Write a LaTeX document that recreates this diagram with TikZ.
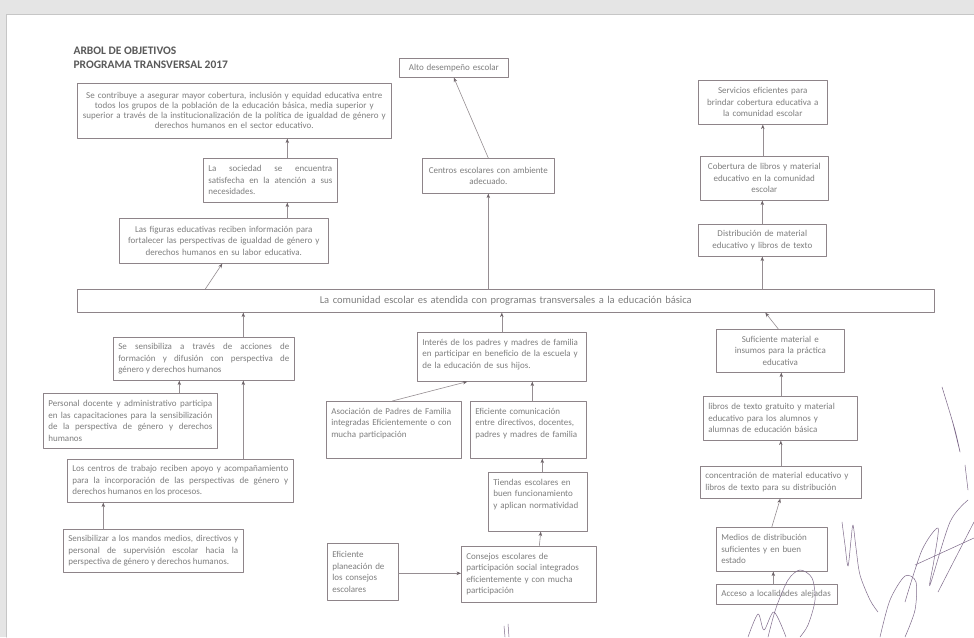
\documentclass[tikz,border=0pt]{standalone}
\usepackage{fontspec}
\setmainfont{Carlito}
\usetikzlibrary{arrows.meta}
\definecolor{borde}{HTML}{8E8489}
\definecolor{texto}{HTML}{7E7E7E}
\definecolor{linea}{HTML}{968E92}
\definecolor{punta}{HTML}{6E6469}
\definecolor{tinta}{HTML}{7E6A8A}
\begin{document}
\begin{tikzpicture}[x=1pt,y=-1pt,>={Stealth[length=4.5pt,width=3.5pt,color=punta]},line join=round,line cap=round,
	caja/.style={draw=borde,line width=0.6pt,anchor=north west,inner xsep=5pt,inner ysep=2pt,text=texto,font=\fontsize{9}{11.5}\selectfont},
	arriba/.style={text height=10pt,text depth=#1,inner ysep=3pt},
	flecha/.style={->,draw=linea,line width=0.6pt},
	firma/.style={draw=tinta,line width=0.5pt}]
	\useasboundingbox (0,0) rectangle (974,637);
	% hoja escaneada
	\fill[gray!20] (0,0) rectangle (974,637);
	\fill[white] (6,14) rectangle (974,637);
	\draw[gray!45,line width=1pt] (6,637)--(6,14)--(974,14);
	% titulo
	\node[anchor=west,text=black!65,font=\fontsize{11.5}{14}\selectfont\bfseries,align=left] (titulo) at (70,58) {ARBOL DE OBJETIVOS\\PROGRAMA TRANSVERSAL 2017};
	% fines
	\node[caja,text width=304pt,minimum height=55pt,align=center,font=\fontsize{9}{10}\selectfont] (fin) at (77,83) {Se contribuye a asegurar mayor cobertura, inclusión y equidad educativa entre\\todos los grupos de la población de la educación básica, media superior y\\\makebox[0pt]{superior a través de  la institucionalización de la política de igualdad de género y}\\derechos humanos en el sector educativo.};
	\node[caja,text width=124pt,minimum height=44pt,align=justify] (soc) at (203,158) {La sociedad se encuentra\linebreak satisfecha en la atención a sus\linebreak necesidades.};
	\node[caja,text width=199pt,minimum height=45pt,align=center] (fig) at (119,218) {Las figuras educativas  reciben información para\\fortalecer las perspectivas de igualdad de género y\\derechos humanos en su labor educativa.};
	\node[caja,text width=99pt,minimum height=19pt,align=center] (alto) at (399,58) {Alto desempeño escolar};
	\node[caja,text width=122pt,minimum height=35pt,align=center] (amb) at (422,158) {Centros escolares con ambiente\\adecuado.};
	\node[caja,text width=119pt,minimum height=44pt,align=center] (serv) at (698,80) {Servicios eficientes para\\brindar cobertura educativa a\\la comunidad escolar};
	\node[caja,text width=118pt,minimum height=44pt,align=center] (cob) at (700,156) {Cobertura de libros y material\\educativo en la comunidad\\escolar};
	\node[caja,text width=118pt,minimum height=32pt,align=center] (dist) at (698,224) {Distribución de material\\educativo y libros de texto};
	% objetivo central
	\node[caja,text width=847pt,minimum height=23pt,align=center,font=\fontsize{10.5}{12}\selectfont] (obj) at (77,289) {La comunidad escolar es atendida con programas transversales a la educación básica};
	% medios
	\node[caja,text width=171pt,minimum height=43pt,align=justify] (sens) at (113,337) {Se sensibiliza a través de acciones de\linebreak formación y difusión con perspectiva de\linebreak género y derechos humanos};
	\node[caja,text width=164pt,minimum height=55pt,align=justify] (pers) at (43,393) {Personal docente y administrativo participa\linebreak en las capacitaciones para la sensibilización\linebreak de la perspectiva de género y derechos\linebreak humanos};
	\node[caja,text width=216pt,minimum height=43pt,align=justify] (ctrab) at (67,459) {Los centros de trabajo reciben apoyo y acompañamiento\linebreak para la incorporación de las perspectivas de género y\linebreak derechos humanos en los procesos.};
	\node[caja,text width=170pt,minimum height=43pt,align=justify] (mandos) at (63,529) {Sensibilizar a los mandos medios, directivos y\linebreak personal de supervisión escolar hacia la\linebreak perspectiva de género y derechos humanos.};
	\node[caja,arriba=33pt,text width=159pt,align=left] (inter) at (417,332) {Interés de los padres y madres de familia\\en participar en beneficio de la escuela y\\de la educación de sus hijos.};
	\node[caja,arriba=41pt,text width=125pt,align=left] (asoc) at (326,401) {Asociación de Padres de Familia\\integradas Eficientemente o con\\mucha participación};
	\node[caja,arriba=41pt,text width=106pt,align=left] (comu) at (470,401) {Eficiente comunicación\\entre directivos, docentes,\\padres y madres de familia};
	\node[caja,arriba=43pt,text width=89pt,align=left] (tiend) at (488,472) {Tiendas escolares en\\buen funcionamiento\\y aplican normatividad};
	\node[caja,text width=125pt,minimum height=56pt,align=left] (cons) at (461,546) {Consejos escolares de\\participación social integrados\\eficientemente y con mucha\\participación};
	\node[caja,text width=61pt,minimum height=57pt,align=left] (plan) at (327,543) {Eficiente\\planeación de\\los consejos\\escolares};
	\node[caja,text width=118pt,minimum height=43pt,align=center] (sufi) at (716,329) {Suficiente material e\\insumos para la práctica\\educativa};
	\node[caja,text width=144pt,minimum height=44pt,align=left] (libros) at (703,396) {libros de texto gratuito y material\\educativo para los alumnos y\\alumnas de educación básica};
	\node[caja,text width=151pt,minimum height=32pt,align=left] (conc) at (700,466) {concentración de material educativo y\\libros de texto para su distribución};
	\node[caja,text width=101pt,minimum height=44pt,align=left] (medios) at (716,527) {Medios de distribución\\suficientes y en buen\\estado};
	\node[caja,text width=111pt,minimum height=20pt,align=left] (acceso) at (716,584) {Acceso a localidades alejadas};
	% flechas superiores
	\draw[flecha] ([xshift=17pt]soc.north) -- ([xshift=17pt]soc.north |- fin.south);
	\draw[flecha] ([xshift=63.5pt]fig.north) -- ([xshift=63.5pt]fig.north |- soc.south);
	\draw[flecha] ([xshift=-300.5pt]obj.north) -- ([xshift=-1.5pt]fig.south);
	\draw[flecha] (amb.north) -- (alto.south);
	\draw[flecha] (amb.south |- obj.north) -- (amb.south);
	\draw[flecha] ([xshift=-1.5pt]cob.north) -- ([xshift=-1.5pt]cob.north |- serv.south);
	\draw[flecha] (dist.north) -- (dist.north |- cob.south);
	\draw[flecha] (dist.south |- obj.north) -- (dist.south);
	% flechas inferiores
	\draw[flecha] ([xshift=39.5pt]sens.north) -- ([xshift=39.5pt]sens.north |- obj.south);
	\draw[flecha] ([xshift=49pt]pers.north) -- ([xshift=49pt]pers.north |- sens.south);
	\draw[flecha] ([xshift=63pt]ctrab.north) -- ([xshift=63pt]ctrab.north |- sens.south);
	\draw[flecha] ([xshift=-50pt]mandos.north) -- ([xshift=-50pt]mandos.north |- ctrab.south);
	\draw[flecha] (inter.north) -- (inter.north |- obj.south);
	\draw[flecha] ([xshift=-1.5pt]asoc.north) -- ([xshift=-34.5pt]inter.south);
	\draw[flecha] ([xshift=4pt]comu.north) -- ([xshift=4pt]comu.north |- inter.south);
	\draw[flecha] ([xshift=4.5pt]tiend.north) -- ([xshift=4.5pt]tiend.north |- comu.south);
	\draw[flecha] ([xshift=10.5pt]cons.north) -- ([xshift=3pt]tiend.south);
	\draw[flecha] ([yshift=-1.5pt]plan.east) -- ([yshift=-1.5pt]plan.east -| cons.west);
	\draw[flecha] ([xshift=-2pt]sufi.north) -- ([xshift=259.5pt]obj.south);
	\draw[flecha] ([xshift=1pt]libros.north) -- ([xshift=1pt]libros.north |- sufi.south);
	\draw[flecha] (conc.north) -- (conc.north |- libros.south);
	\draw[flecha] (medios.north) -- ([xshift=-0.5pt]conc.south);
	\draw[flecha] ([xshift=-3.5pt]acceso.north) -- ([xshift=-3.5pt]acceso.north |- medios.south);
	% firmas
	\draw[firma] plot[smooth] coordinates {(842,522) (845,545) (848,566) (851,540) (853,525) (856,548) (860,575) (870,600) (878,612)};
	\draw[firma] plot[smooth] coordinates {(768,637) (776,608) (788,580) (800,570) (812,578) (815,600) (808,625) (800,637)};
	\draw[firma] plot[smooth] coordinates {(748,637) (758,614) (764,630) (774,612) (786,637)};
	\draw[firma] plot[smooth] coordinates {(880,637) (890,600) (905,576) (916,582) (915,610) (905,637)};
	\draw[firma] plot[smooth] coordinates {(905,602) (922,550) (938,528) (934,560) (930,585) (950,522) (968,500)};
	\draw[firma] (915,565) -- (974,538);
	\draw[firma] (938,592) -- (974,522);
	\draw[firma] plot[smooth cycle] coordinates {(942,387) (952,420) (960,452) (955,430) (946,400)};
	\draw[firma] (965,465) -- (968,490);
	\draw[firma] (504,626) -- (505,637);
	\draw[firma] (508,624) -- (509,637);
\end{tikzpicture}
\end{document}
